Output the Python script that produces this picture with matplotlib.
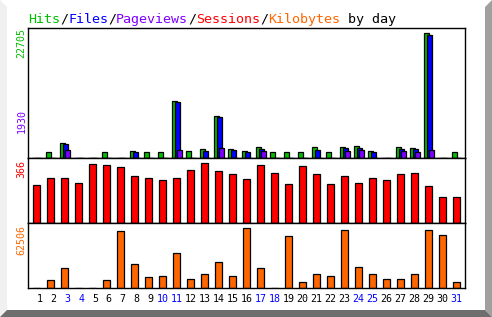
import numpy as np
import matplotlib
matplotlib.use('Agg')
import matplotlib.pyplot as plt
from matplotlib.patches import Polygon

#==============================================================================
# Data
#==============================================================================
days = np.arange(1, 32)
weekend = [3, 4, 10, 11, 17, 18, 24, 25, 31]

hits = [0, 1080, 2760, 0, 0, 1080, 0, 1260, 1080, 1080, 10430, 1260, 1620, 7610, 1620, 1260,
        1980, 1080, 1080, 1080, 1980, 1080, 1980, 2160, 1260, 0, 1980, 1800, 22705, 0, 1080]
files = [0, 0, 2580, 0, 0, 0, 0, 1080, 0, 0, 10250, 0, 1260, 7430, 1500, 1080,
         1620, 0, 0, 0, 1440, 0, 1800, 1800, 1080, 0, 1620, 1620, 22300, 0, 0]
pages = [0, 0, 1500, 0, 0, 0, 0, 0, 0, 0, 1500, 0, 0, 1930, 0, 0,
         1260, 0, 0, 0, 0, 0, 1260, 1440, 0, 0, 1260, 1080, 1440, 0, 0]
sessions = [234, 276, 276, 246, 360, 354, 342, 288, 276, 264, 276, 324, 366, 318, 300, 270,
            354, 306, 240, 348, 300, 240, 288, 246, 276, 264, 300, 306, 228, 162, 162]
kbytes = [0, 8200, 20500, 0, 0, 8200, 59430, 25600, 11270, 12300, 36900, 9220, 14350, 27670, 12300, 62506,
          20500, 0, 54300, 6150, 14350, 12300, 60460, 21520, 14350, 9220, 9220, 14350, 60460, 55330, 6150]

max_hits = max(hits)
max_pages = max(pages)
max_sessions = max(sessions)
max_kbytes = max(kbytes)

GREEN = '#00c000'
BLUE = '#0000ff'
PURPLE = '#8000ff'
RED = '#ff0000'
ORANGE = '#ff6600'

W, H = 492, 317
mono = 'DejaVu Sans Mono'

def fx(x):
    return x / W

def fy(y):
    return 1 - y / H

#==============================================================================
# Figure with bevelled frame
#==============================================================================
fig = plt.figure(figsize=(W / 100, H / 100), dpi=100)
fig.patch.set_facecolor('white')

frame = [
    ([(0, 0), (7, 7), (7, 310), (0, 317)], '#f0f0f0'),
    ([(485, 7), (492, 0), (492, 317), (485, 310)], '#a0a0a0'),
    ([(7, 310), (485, 310), (492, 317), (0, 317)], '#6e6e6e'),
]
for pts, col in frame:
    fig.add_artist(Polygon([(fx(x), fy(y)) for x, y in pts], closed=True,
                           facecolor=col, edgecolor='none', transform=fig.transFigure))

# axes placement in pixels
left, right = 28.3, 465.3
rows = [(28.3, 158.3), (158.3, 223.3), (223.3, 288.3)]
axes = []
for top, bot in rows:
    ax = fig.add_axes([fx(left), fy(bot), (right - left) / W, (bot - top) / H])
    ax.set_xlim(0.414, 31.63)
    ax.set_yticks([])
    for s in ax.spines.values():
        s.set_linewidth(1.0)
        s.set_color('black')
    axes.append(ax)
ax1, ax2, ax3 = axes

ek = dict(edgecolor='black', linewidth=0.9, align='edge')
ax1.bar(days - 0.335, hits, width=0.36, color=GREEN, **ek)
ax1.bar(days - 0.121, files, width=0.36, color=BLUE, **ek)
ax1.bar(days + 0.021, pages, width=0.36, color=PURPLE, **ek)
ax1.set_ylim(0, max_hits * 130 / 125.8)

ax2.bar(days, sessions, width=0.55, color=RED, edgecolor='black', linewidth=0.9)
ax2.set_ylim(0, max_sessions * 65 / 60.5)

ax3.bar(days, kbytes, width=0.55, color=ORANGE, edgecolor='black', linewidth=0.9)
ax3.set_ylim(0, max_kbytes * 65 / 60.5)

ax1.set_xticks([])
ax2.set_xticks([])
ax3.set_xticks(days)
ax3.set_xticklabels(['%2d' % d for d in days], fontsize=7.2, family=mono)
ax3.tick_params(axis='x', length=0, pad=4)
for lab, d in zip(ax3.get_xticklabels(), days):
    lab.set_color(BLUE if d in weekend else 'black')

#==============================================================================
# Labels
#==============================================================================
lk = dict(rotation=90, ha='center', fontsize=7.2, family=mono)
fig.text(fx(21.5), fy(28.5), str(max_hits), va='top', color=GREEN, **lk)
fig.text(fx(21.5), fy(133), str(max_pages), va='bottom', color=PURPLE, **lk)
fig.text(fx(21.5), fy(159.5), str(max_sessions), va='top', color=RED, **lk)
fig.text(fx(21.5), fy(225), str(max_kbytes), va='top', color=ORANGE, **lk)

title = [('Hits', GREEN), ('/', 'black'), ('Files', BLUE), ('/', 'black'),
         ('Pageviews', PURPLE), ('/', 'black'), ('Sessions', RED), ('/', 'black'),
         ('Kilobytes', ORANGE), (' by day', 'black')]
x = 28.0
for txt, col in title:
    fig.text(fx(x), fy(23), txt, color=col, fontsize=9.6, family=mono,
             ha='left', va='baseline')
    x += 8.0 * len(txt)

plt.savefig('out.png', dpi=100)
